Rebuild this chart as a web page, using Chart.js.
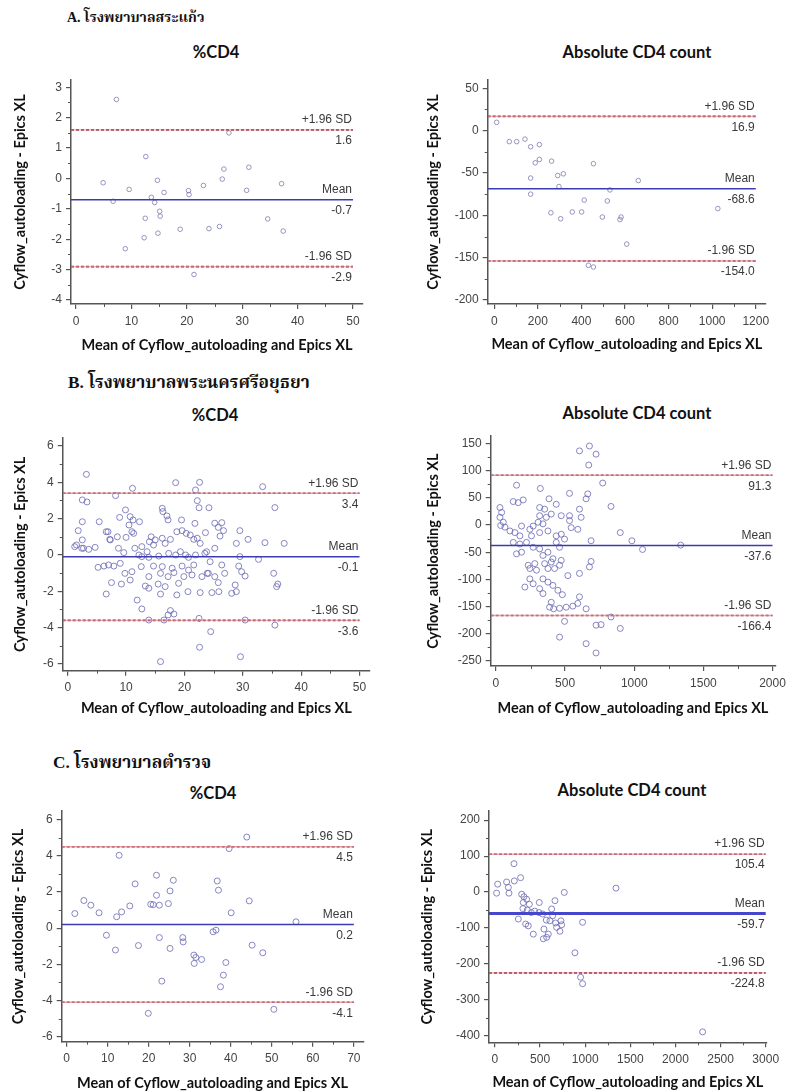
<!DOCTYPE html>
<html><head><meta charset="utf-8">
<script src="https://cdn.jsdelivr.net/npm/chart.js@4.4.0/dist/chart.umd.min.js"></script>
<style>
html,body{margin:0;padding:0;background:#fff;overflow:hidden;width:791px;height:1092px;position:relative;}
canvas{position:absolute;}
.head{position:absolute;font-family:"Liberation Serif","Noto Serif Thai","Noto Sans Thai",serif;font-weight:bold;font-size:14px;color:#111;white-space:nowrap;transform:translateY(-50%);}
.ttl{position:absolute;font-family:Lato,"Open Sans",sans-serif;font-weight:bold;font-size:16.5px;color:#111;white-space:nowrap;transform:translate(-50%,-50%);}
</style></head><body>
<div class="head" style="left:67px;top:18px">A. โรงพยาบาลสระแก้ว</div>
<div class="head" style="left:68px;top:383px;font-size:17.3px">B. โรงพยาบาลพระนครศรีอยุธยา</div>
<div class="head" style="left:53px;top:763px;font-size:17.3px">C. โรงพยาบาลตำรวจ</div>
<div class="ttl" style="left:216px;top:52px">%CD4</div>
<div class="ttl" style="left:637px;top:52px">Absolute CD4 count</div>
<div class="ttl" style="left:215px;top:415px">%CD4</div>
<div class="ttl" style="left:637px;top:413px">Absolute CD4 count</div>
<div class="ttl" style="left:213px;top:793px">%CD4</div>
<div class="ttl" style="left:632px;top:790px">Absolute CD4 count</div>
<canvas id="c1"></canvas><canvas id="c2"></canvas><canvas id="c3"></canvas>
<canvas id="c4"></canvas><canvas id="c5"></canvas><canvas id="c6"></canvas>
<script>
// ---------- DATA ----------
const limitNames = ['+1.96 SD', 'Mean', '-1.96 SD'];
const xTitle = 'Mean of Cyflow_autoloading and Epics XL';
const yTitle = 'Cyflow_autoloading - Epics XL';

// A. Sa Kaeo - %CD4
const aPctX = [7.3,12.6,4.9,9.6,6.7,14.7,15.9,13.6,14.2,15.1,15.2,12.5,12.3,14.8,8.9,18.8,20.3,20.4,23.0,21.3,24.0,25.9,26.4,26.7,27.6,30.8,31.2,34.6,37.1,37.4];
const aPctY = [2.6,0.72,-0.14,-0.36,-0.75,-0.06,-0.46,-0.62,-0.79,-1.08,-1.24,-1.31,-1.95,-1.8,-2.31,-1.67,-0.40,-0.53,-0.23,-3.16,-1.65,-1.58,-0.02,0.31,1.5,-0.39,0.37,-1.33,-0.17,-1.73];
const aPctLimits = [1.6, -0.7, -2.9];
const aPctXTicks = [0,10,20,30,40,50];
const aPctYTicks = [-4,-3,-2,-1,0,1,2,3];

// A. Sa Kaeo - Absolute CD4
const aAbsX = [11,69,103,141,167,207,188,207,167,167,263,291,317,297,260,305,358,401,413,455,432,455,496,519,531,577,582,608,661,1026];
const aAbsY = [9.8,-13,-13,-10,-19,-16.5,-38,-34,-56,-75,-36,-53,-51,-66,-97,-104,-96,-96,-82,-39,-159,-161,-102,-83,-70,-105,-102,-134,-59,-92];
const aAbsLimits = [16.9, -68.6, -154.0];
const aAbsXTicks = [0,200,400,600,800,1000,1200];
const aAbsYTicks = [-200,-150,-100,-50,0,50];

// B. Ayutthaya - %CD4
const bPctX = [3.2,11.1,8.2,18.5,22.6,21.9,2.5,3.3,22.2,22.5,24.2,9.9,16.2,16.3,17.0,17.2,10.7,11.2,8.9,12.3,10.5,5.4,2.5,19.5,21.8,1.8,6.9,11.0,8.5,7.2,2.5,10.0,11.3,14.3,14.0,15.0,16.2,16.7,17.6,18.7,19.6,20.3,21.0,21.6,22.2,22.7,23.6,1.2,2.7,3.6,4.7,8.7,9.6,11.5,12.7,13.6,14.7,12.2,12.7,13.9,15.6,17.3,18.5,19.3,20.2,20.7,21.9,23.5,5.2,6.2,7.0,7.9,9.0,12.6,14.7,16.2,17.9,19.6,21.6,20.7,9.8,11.0,13.9,15.9,17.2,18.2,19.9,21.3,23.0,23.9,7.5,9.2,10.7,13.3,13.9,15.5,16.7,19.0,6.6,15.9,18.7,20.6,22.7,11.9,12.7,17.6,18.2,17.2,13.9,16.5,22.5,22.6,15.9,24.5,33.4,35.5,25.2,26.4,25.8,26.7,26.1,29.5,30.9,28.9,33.8,37.1,25.2,23.8,29.5,32.7,24.4,26.4,29.3,29.8,30.4,24.1,25.2,26.9,25.8,28.7,35.3,36.0,35.8,24.7,25.9,28.1,28.9,30.4,35.5,29.6,1.5,2.4,6.6,7.3];
const bPctY = [4.44,3.67,3.27,3.98,4.0,3.58,3.03,2.92,2.99,2.6,2.6,2.48,2.57,2.39,2.15,1.93,2.11,1.93,2.07,1.83,1.65,1.83,1.83,1.93,1.74,1.34,1.28,1.28,1.0,0.86,0.83,0.97,1.19,1.0,0.73,0.83,0.92,0.64,0.86,1.28,1.34,1.19,1.1,0.86,0.92,0.64,1.23,0.46,0.37,0.31,0.42,0.37,0.13,0.37,0.46,0.18,0.55,0.0,-0.09,-0.13,-0.06,0.09,0.0,0.18,0.0,-0.13,0.0,0.09,-0.68,-0.61,-0.55,-0.61,-0.46,-0.64,-0.61,-0.64,-0.73,-0.61,-0.55,-0.83,-1.01,-0.92,-1.19,-1.01,-1.19,-0.97,-1.19,-1.1,-1.19,-1.01,-1.52,-1.6,-1.38,-1.71,-1.83,-1.6,-1.74,-1.56,-2.15,-2.15,-2.2,-2.02,-2.07,-2.48,-2.97,-3.06,-3.25,-3.3,-3.58,-3.58,-3.49,-5.08,-5.87,-4.22,3.76,2.61,1.75,1.78,1.52,1.34,1.04,1.34,0.86,0.64,0.68,0.64,0.37,0.18,-0.09,-0.24,-0.37,-0.55,-0.61,-0.92,-1.16,-1.01,-1.19,-1.01,-1.52,-1.65,-1.01,-1.6,-1.74,-2.07,-2.02,-2.11,-2.02,-3.58,-3.86,-5.6,0.55,0.37,1.28,0.83];
const bPctLimits = [3.4, -0.1, -3.6];
const bPctXTicks = [0,10,20,30,40,50];
const bPctYTicks = [-6,-4,-2,0,2,4,6];

// B. Ayutthaya - Absolute CD4
const bAbsX = [604,676,724,671,149,321,197,125,161,384,532,664,652,29,41,29,53,65,34,316,352,316,364,305,340,400,436,472,532,532,604,616,544,592,101,137,185,173,245,257,269,316,376,436,472,496,125,173,221,269,316,436,460,149,185,340,376,412,233,281,352,400,472,460,245,293,376,424,520,604,688,676,245,269,209,340,376,316,340,412,448,480,604,388,417,460,508,556,592,652,400,496,460,652,724,772,832,899,983,1060,1336,688,832,760,899,724];
const bAbsY = [136,145,130,110,73,67,46,43,41,48,58,57,48,32,23,14,5,-4,-1,32,29,17,14,5,2,20,38,17,17,8,29,14,-5,-8,-11,-14,-2,-20,-8,-20,-2,-14,-11,-20,-17,-26,-32,-35,-32,-41,-44,-32,-41,-53,-50,-56,-50,-62,-74,-71,-71,-68,-65,-74,-80,-83,-80,-80,-93,-89,-67,-77,-99,-108,-114,-99,-105,-117,-126,-111,-120,-128,-132,-151,-154,-153,-151,-149,-144,-154,-142,-177,-206,-218,-184,77,34,-14,-29,-45,-37,-29,-169,-183,-190,-235];
const bAbsLimits = [91.3, -37.6, -166.4];
const bAbsXTicks = [0,500,1000,1500,2000];
const bAbsYTicks = [-250,-200,-150,-100,-50,0,50,100,150];

// C. Police General - %CD4
const cPctX = [2.0,4.2,5.9,7.9,9.7,12.8,12.2,13.4,11.9,15.4,16.7,17.5,19.9,20.5,21.1,21.9,21.9,22.6,22.6,23.2,24.8,25.2,25.2,26.0,28.3,28.4,31.0,31.1,31.5,32.9,35.7,36.4,36.7,37.0,37.5,38.2,38.8,39.6,40.1,43.9,44.5,45.2,47.8,50.5,55.9];
const cPctY = [0.81,1.53,1.27,0.85,-0.39,4.03,0.63,0.9,-1.21,1.23,2.45,-0.96,-4.71,1.32,1.3,2.93,1.82,1.27,-0.52,-2.93,1.36,2.06,-1.12,2.65,-0.52,-0.76,-1.49,-1.95,-1.62,-1.73,-0.2,-0.11,2.61,2.1,-3.24,-2.6,-1.9,4.4,0.85,5.04,1.51,-0.94,-1.36,-4.49,0.35];
const cPctLimits = [4.5, 0.2, -4.1];
const cPctXTicks = [0,10,20,30,40,50,60,70];
const cPctYTicks = [-6,-4,-2,0,2,4,6];

// C. Police General - Absolute CD4
const cAbsX = [211,30,18,129,148,155,214,284,296,321,314,351,381,358,259,340,369,425,491,488,528,543,536,573,591,609,628,639,665,672,683,720,739,731,768,971,886,949,971,1341,2301,310,403,440,569];
const cAbsY = [79,22,-3,28,13,-3,31,40,-6,-13,-29,-20,-34,-50,-75,-89,-94,-117,-29,-57,-61,-103,-130,-126,-117,-80,-47,-66,-24,-86,-98,-109,-91,-80,-1,-84,-169,-237,-255,11,-389,-46,-57,-53,-78];
const cAbsLimits = [105.4, -59.7, -224.8];
const cAbsXTicks = [0,500,1000,1500,2000,2500,3000];
const cAbsYTicks = [-400,-300,-200,-100,0,100,200];

// ---------- DRAWING ----------
const tickFont = {family:'"Liberation Sans", Arial, sans-serif', size:12};
const titleFont = {family:'Lato, "Open Sans", sans-serif', size:14.5, weight:'bold'};

const refPlugin = {
  id: 'refLabels',
  afterDraw(chart) {
    const o = chart.options.plugins.refLabels;
    if (!o) return;
    const xs = chart.scales.x, ys = chart.scales.y, ctx = chart.ctx;
    ctx.save();
    // minor ticks (midway between major ticks)
    ctx.strokeStyle = '#555'; ctx.lineWidth = 1;
    ctx.beginPath();
    for (let i = 0; i < o.yTicks.length - 1; i++) {
      const p = Math.round(ys.getPixelForValue((o.yTicks[i] + o.yTicks[i + 1]) / 2)) + 0.5;
      ctx.moveTo(ys.right - 3, p); ctx.lineTo(ys.right, p);
    }
    for (let i = 0; i < o.xTicks.length - 1; i++) {
      const p = Math.round(xs.getPixelForValue((o.xTicks[i] + o.xTicks[i + 1]) / 2)) + 0.5;
      ctx.moveTo(p, xs.top); ctx.lineTo(p, xs.top + 3);
    }
    ctx.stroke();
    // reference line labels
    ctx.font = '12px "Liberation Sans", Arial, sans-serif';
    ctx.fillStyle = '#3a3a3a'; ctx.textAlign = 'right'; ctx.textBaseline = 'middle';
    const xr = xs.getPixelForValue(o.xTicks[o.xTicks.length - 1]) - 1;
    o.values.forEach((v, i) => {
      const py = ys.getPixelForValue(v);
      ctx.fillText(limitNames[i], xr, py - 10);
      ctx.fillText(v.toFixed(1), xr, py + 11);
    });
    ctx.restore();
  }
};

function panel(id, geo, sc, xsArr, ysArr, limits, xTicks, yTicks) {
  const cv = document.getElementById(id);
  cv.width = geo.cw; cv.height = geo.ch;
  cv.style.left = geo.cx + 'px'; cv.style.top = geo.cy + 'px';
  cv.style.width = geo.cw + 'px'; cv.style.height = geo.ch + 'px';
  const L = geo.L - geo.cx, T = geo.T - geo.cy, R = geo.R - geo.cx, B = geo.B - geo.cy;
  const lh = titleFont.size * 1.2;
  const yTitlePad = (geo.yTitleX - geo.cx) - lh / 2;
  const xTitlePad = (geo.ch - (geo.xTitleY - geo.cy)) - lh / 2;
  const pts = xsArr.map((x, i) => ({x: x, y: ysArr[i]}));
  const xEnd = xTicks[xTicks.length - 1];
  const line = (v) => [{x: sc.xMin, y: v}, {x: xEnd, y: v}];
  const red = '#8a2533', pink = 'rgba(225,140,150,0.7)';
  const datasets = [
    {data: line(limits[0]), showLine: true, borderColor: pink, borderWidth: 1.4, pointRadius: 0},
    {data: line(limits[0]), showLine: true, borderColor: red, borderWidth: 1.6, borderDash: [3, 2], pointRadius: 0},
    {data: line(limits[1]), showLine: true, borderColor: sc.meanColor, borderWidth: sc.meanW, pointRadius: 0},
    {data: line(limits[2]), showLine: true, borderColor: pink, borderWidth: 1.4, pointRadius: 0},
    {data: line(limits[2]), showLine: true, borderColor: red, borderWidth: 1.6, borderDash: [3, 2], pointRadius: 0},
    {data: pts, showLine: false, pointStyle: 'circle', pointRadius: sc.ptR, pointBorderWidth: 1,
     pointBorderColor: sc.ptColor, pointBackgroundColor: 'rgba(0,0,0,0)'}
  ];
  const axisCommon = {
    type: 'linear',
    border: {display: true, color: '#555', width: 1.5},
    grid: {display: true, drawOnChartArea: false, drawTicks: true, tickLength: 5, color: '#555', lineWidth: 1.2},
  };
  new Chart(cv, {
    type: 'scatter',
    data: {datasets},
    options: {
      responsive: false, animation: false, devicePixelRatio: 1,
      layout: {padding: {left: 0, top: T, right: geo.cw - R, bottom: 0}},
      plugins: {legend: {display: false}, tooltip: {enabled: false},
        refLabels: {values: limits, xTicks: xTicks, yTicks: yTicks}},
      scales: {
        x: Object.assign({}, axisCommon, {
          position: 'bottom', min: sc.xMin, max: sc.xMax,
          afterBuildTicks: s => { s.ticks = xTicks.map(v => ({value: v})); },
          ticks: {autoSkip: false, maxRotation: 0, padding: 5,
                  color: '#444', font: tickFont, callback: v => String(v)},
          title: {display: true, text: xTitle, color: '#111', font: titleFont, padding: {top: 0, bottom: xTitlePad}},
          afterFit: s => { s.height = geo.ch - B; }
        }),
        y: Object.assign({}, axisCommon, {
          position: 'left', min: sc.yMin, max: sc.yMax,
          afterBuildTicks: s => { s.ticks = yTicks.map(v => ({value: v})); },
          ticks: {autoSkip: false, padding: 4,
                  color: '#444', font: tickFont, callback: v => String(v)},
          title: {display: true, text: yTitle, color: '#111', font: titleFont, padding: {top: yTitlePad, bottom: 0}},
          afterFit: s => { s.width = L; }
        })
      }
    },
    plugins: [refPlugin]
  });
}

const ptA = 'rgba(125,125,175,0.8)';
const ptB = 'rgba(105,105,180,0.8)';
const meanBlue = '#3c3cb0';

panel('c1', {cx:0, cy:62, cw:385, ch:300, L:71, T:80, R:363, B:304, yTitleX:20, xTitleY:345},
  {xMin:-0.9, xMax:51.8, yMin:-4.13, yMax:3.24, ptR:2.3, ptColor:ptA, meanColor:meanBlue, meanW:1.5},
  aPctX, aPctY, aPctLimits, aPctXTicks, aPctYTicks);
panel('c2', {cx:395, cy:62, cw:396, ch:300, L:487.7, T:80, R:766, B:304, yTitleX:433, xTitleY:344},
  {xMin:-30, xMax:1247, yMin:-204.7, yMax:59.8, ptR:2.3, ptColor:ptA, meanColor:meanBlue, meanW:1.5},
  aAbsX, aAbsY, aAbsLimits, aAbsXTicks, aAbsYTicks);
panel('c3', {cx:0, cy:425, cw:385, ch:300, L:62.7, T:438, R:370, B:670.7, yTitleX:20, xTitleY:708},
  {xMin:-0.86, xMax:51.8, yMin:-6.37, yMax:6.44, ptR:3, ptColor:ptB, meanColor:meanBlue, meanW:1.5},
  bPctX, bPctY, bPctLimits, bPctXTicks, bPctYTicks);
panel('c4', {cx:395, cy:425, cw:396, ch:300, L:490.7, T:435, R:776.7, B:666, yTitleX:433, xTitleY:708},
  {xMin:-38, xMax:2019, yMin:-259, yMax:163, ptR:3, ptColor:ptB, meanColor:meanBlue, meanW:1.5},
  bAbsX, bAbsY, bAbsLimits, bAbsXTicks, bAbsYTicks);
panel('c5', {cx:0, cy:800, cw:385, ch:292, L:61.7, T:810.7, R:363.3, B:1041.7, yTitleX:18, xTitleY:1083},
  {xMin:-1.2, xMax:72.3, yMin:-6.28, yMax:6.47, ptR:3, ptColor:ptB, meanColor:meanBlue, meanW:1.5},
  cPctX, cPctY, cPctLimits, cPctXTicks, cPctYTicks);
panel('c6', {cx:395, cy:800, cw:396, ch:292, L:489, T:810, R:766.7, B:1042.3, yTitleX:427, xTitleY:1082},
  {xMin:-66, xMax:3011, yMin:-418, yMax:225, ptR:3, ptColor:ptB, meanColor:'#4646cc', meanW:3},
  cAbsX, cAbsY, cAbsLimits, cAbsXTicks, cAbsYTicks);
</script>
</body></html>
